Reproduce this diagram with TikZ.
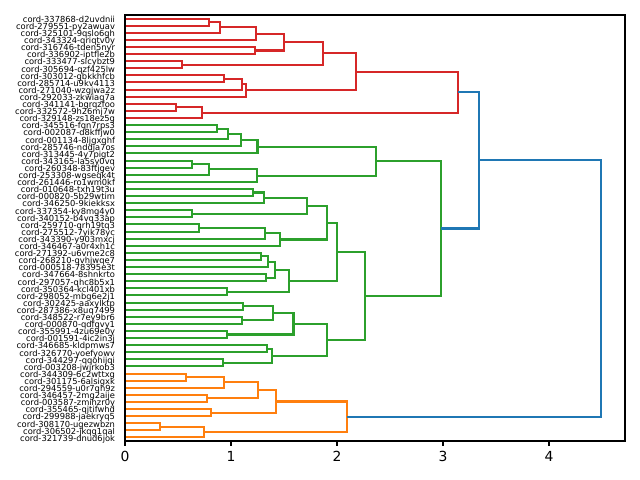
\documentclass[tikz,border=0pt]{standalone}
\usepackage{fontspec}
\setmainfont{DejaVu Sans}
\usetikzlibrary{calc}

\definecolor{cone}{HTML}{FF7F0E}
\definecolor{ctwo}{HTML}{2CA02C}
\definecolor{cthree}{HTML}{D62728}
\definecolor{czero}{HTML}{1F77B4}

% #1,#2 children, #3 new cluster, #4 height, #5 colour
\newcommand{\linkpair}[5]{%
  \coordinate (mid) at ($(#1)!.5!(#2)$);
  \coordinate (#3) at ($(mid -| o)+(#4,0)$);
  \draw[link,#5] (#1) -- (#1 -| #3) -- (#2 -| #3) -- (#2);
}

\begin{document}
\begin{tikzpicture}[x=76.32pt,y=-5.112pt,
  link/.style={line width=1.5pt},
  leaf/.style={anchor=mid east,inner sep=0pt,xshift=-7pt,font=\fontsize{6}{7}\selectfont},
  ticklab/.style={anchor=north,inner sep=0pt,yshift=-3.5pt,font=\fontsize{10}{12}\selectfont}]
  \useasboundingbox (-90pt,10.8pt) rectangle (370.8pt,-334.8pt);
  \coordinate (o) at (0,0);
  % leaves
  \foreach \lab [count=\i] in {cord-337868-d2uvdnii,cord-279551-py2awuav,cord-325101-9qslo6gh,
    cord-343324-qriqtv0y,cord-316746-tden5nyr,cord-336902-iptfle2b,cord-333477-slcybzt9,
    cord-305694-qzf425lw,cord-303012-gbkkhfcb,cord-285714-u9kv4113,cord-271040-wzgjwa2z,
    cord-292033-zkwiag7a,cord-341141-bgrqzfoo,cord-332572-9h26mj7w,cord-329148-zs18ez5g,
    cord-345516-fqn7rps3,cord-002087-d8kffjw0,cord-001134-8ljgxqhf,cord-285746-nddja7os,
    cord-313445-4y7pigt2,cord-343165-la5sy0vq,cord-260348-83ftjgev,cord-253308-wgseqk4t,
    cord-261446-ro1wm0kf,cord-010648-txh19t3u,cord-000820-5b29wtim,cord-346250-9kiekksx,
    cord-337354-ky8mg4y0,cord-340152-b4vq33ap,cord-259710-qrh19tq3,cord-275512-7yik78yc,
    cord-343390-y903mxcj,cord-346467-a0r4xh1c,cord-271392-u6vme2c8,cord-268210-qvhjwqe7,
    cord-000518-78395e3t,cord-347664-8shnkrto,cord-297057-qhc8b5x1,cord-350364-kcl401xb,
    cord-298052-mbg6e2j1,cord-302425-aaxylktp,cord-287386-x8uq7499,cord-348522-r7ey9br6,
    cord-000870-qdfqvy1,cord-355991-4zu69e0y,cord-001591-4ic2in3j,cord-346685-kldpmws7,
    cord-326770-yoefyowv,cord-344297-qqohijqi,cord-003208-jwjrkob3,cord-344309-6c2wttxg,
    cord-301175-6alsigxk,cord-294559-u0r7qh9z,cord-346457-2mg2aije,cord-003587-zmihzr0y,
    cord-355465-qjtifwhd,cord-299988-jaekryq5,cord-308170-ugezwbzn,cord-306502-jkqg1qal,
    cord-321739-dnud6jok}{
    \coordinate (l\i) at (0,\i-0.5);
    \node[leaf] (n\i) at (l\i) {\lab};
  }
  % red cluster
  \linkpair{l1}{l2}{r1}{0.79}{cthree}
  \linkpair{r1}{l3}{r2}{0.896}{cthree}
  \linkpair{r2}{l4}{r3}{1.24}{cthree}
  \linkpair{l5}{l6}{r4}{1.226}{cthree}
  \linkpair{r3}{r4}{r5}{1.497}{cthree}
  \linkpair{l7}{l8}{r6}{0.538}{cthree}
  \linkpair{r5}{r6}{r7}{1.865}{cthree}
  \linkpair{l9}{l10}{r8}{0.937}{cthree}
  \linkpair{r8}{l11}{r9}{1.104}{cthree}
  \linkpair{r9}{l12}{r10}{1.142}{cthree}
  \linkpair{r7}{r10}{r11}{2.18}{cthree}
  \linkpair{l13}{l14}{r12}{0.481}{cthree}
  \linkpair{r12}{l15}{r13}{0.723}{cthree}
  \linkpair{r11}{r13}{r14}{3.14}{cthree}
  % green cluster
  \linkpair{l16}{l17}{g1}{0.865}{ctwo}
  \linkpair{g1}{l18}{g2}{0.969}{ctwo}
  \linkpair{g2}{l19}{g3}{1.091}{ctwo}
  \linkpair{g3}{l20}{g4}{1.25}{ctwo}
  \linkpair{l21}{l22}{g5}{0.632}{ctwo}
  \linkpair{g5}{l23}{g6}{0.79}{ctwo}
  \linkpair{g6}{l24}{g7}{1.242}{ctwo}
  \linkpair{g4}{g7}{g8}{2.368}{ctwo}
  \linkpair{l25}{l26}{g9}{1.208}{ctwo}
  \linkpair{g9}{l27}{g10}{1.308}{ctwo}
  \linkpair{l28}{l29}{g11}{0.629}{ctwo}
  \linkpair{g10}{g11}{g12}{1.714}{ctwo}
  \linkpair{l30}{l31}{g13}{0.695}{ctwo}
  \linkpair{g13}{l32}{g14}{1.318}{ctwo}
  \linkpair{g14}{l33}{g15}{1.462}{ctwo}
  \linkpair{g12}{g15}{g16}{1.903}{ctwo}
  \linkpair{l34}{l35}{g17}{1.283}{ctwo}
  \linkpair{g17}{l36}{g18}{1.349}{ctwo}
  \linkpair{l37}{l38}{g19}{1.327}{ctwo}
  \linkpair{g18}{g19}{g20}{1.412}{ctwo}
  \linkpair{l39}{l40}{g21}{0.959}{ctwo}
  \linkpair{g20}{g21}{g22}{1.547}{ctwo}
  \linkpair{g16}{g22}{g23}{1.997}{ctwo}
  \linkpair{l41}{l42}{g24}{1.116}{ctwo}
  \linkpair{l43}{l44}{g25}{1.107}{ctwo}
  \linkpair{g24}{g25}{g26}{1.393}{ctwo}
  \linkpair{l45}{l46}{g27}{0.959}{ctwo}
  \linkpair{g26}{g27}{g28}{1.59}{ctwo}
  \linkpair{l47}{l48}{g29}{1.34}{ctwo}
  \linkpair{l49}{l50}{g30}{0.928}{ctwo}
  \linkpair{g29}{g30}{g31}{1.387}{ctwo}
  \linkpair{g28}{g31}{g32}{1.909}{ctwo}
  \linkpair{g23}{g32}{g33}{2.264}{ctwo}
  \linkpair{g8}{g33}{g34}{2.98}{ctwo}
  % orange cluster
  \linkpair{l51}{l52}{o1}{0.575}{cone}
  \linkpair{o1}{l53}{o2}{0.937}{cone}
  \linkpair{l54}{l55}{o3}{0.774}{cone}
  \linkpair{o2}{o3}{o4}{1.255}{cone}
  \linkpair{l56}{l57}{o5}{0.811}{cone}
  \linkpair{o4}{o5}{o6}{1.425}{cone}
  \linkpair{l58}{l59}{o7}{0.33}{cone}
  \linkpair{o7}{l60}{o8}{0.745}{cone}
  \linkpair{o6}{o8}{o9}{2.094}{cone}
  % top links
  \linkpair{r14}{g34}{b1}{3.34}{czero}
  \linkpair{b1}{o9}{b2}{4.49}{czero}
  % frame and ticks
  \draw[line width=0.8pt] (0,0) rectangle (4.717,60);
  \foreach \t in {0,...,4}
    \draw[line width=0.8pt] (\t,60) -- ++(0,-3.5pt) node[ticklab] (x\t) {\t};
\end{tikzpicture}
\end{document}
